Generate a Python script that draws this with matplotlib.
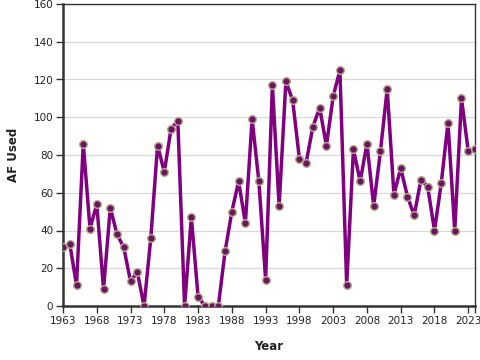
import matplotlib
matplotlib.use("Agg")
import matplotlib.pyplot as plt

years = list(range(1963, 2025))
af_used = [31, 33, 11, 86, 41, 54, 9, 52, 38, 31, 13, 18, 0, 36, 85, 71,
           94, 98, 0, 47, 5, 0, 0, 0, 29, 50, 66, 44, 99, 66, 14, 117,
           53, 119, 109, 78, 76, 95, 105, 85, 111, 125, 11, 83, 66, 86, 53, 82,
           115, 59, 73, 58, 48, 67, 63, 40, 65, 97, 40, 110, 82, 83]
xticks = [1963, 1968, 1973, 1978, 1983, 1988, 1993, 1998, 2003, 2008, 2013, 2018, 2023, 2024]
xticklabels = ["1963", "1968", "1973", "1978", "1983", "1988", "1993", "1998",
               "2003", "2008", "2013", "2018", "2023", ""]
yticks = [0, 20, 40, 60, 80, 100, 120, 140, 160]

fig = plt.figure(figsize=(4.8, 3.6), dpi=100)
ax = fig.add_axes([63/480, 54/360, 412/480, 302/360])

ax.plot(years, af_used, color="#800080", lw=2.5, zorder=3,
        marker="o", ms=5.5, mfc="#6a1560", mec="#b8a98a", mew=1.0)

ax.set_xlim(1963, 2024)
ax.set_ylim(0, 160)
ax.set_xticks(xticks)
ax.set_xticklabels(xticklabels, fontsize=7.5, color="#222222")
ax.set_yticks(yticks)
ax.set_yticklabels([str(t) for t in yticks], fontsize=7.5, color="#222222")
ax.tick_params(axis="both", length=5, width=1, color="#333333", pad=2)
ax.grid(axis="y", color="#d8d8d8", lw=0.9, zorder=0)
ax.set_axisbelow(True)

for s in ["left", "bottom"]:
    ax.spines[s].set_linewidth(1.8)
    ax.spines[s].set_color("#333333")
for s in ["top", "right"]:
    ax.spines[s].set_linewidth(1.0)
    ax.spines[s].set_color("#333333")

ax.set_xlabel("Year", fontsize=8.5, fontweight="bold", color="#222222", labelpad=10)
ax.set_ylabel("AF Used", fontsize=8.5, fontweight="bold", color="#222222", labelpad=10)

fig.savefig("out.png", dpi=100)
